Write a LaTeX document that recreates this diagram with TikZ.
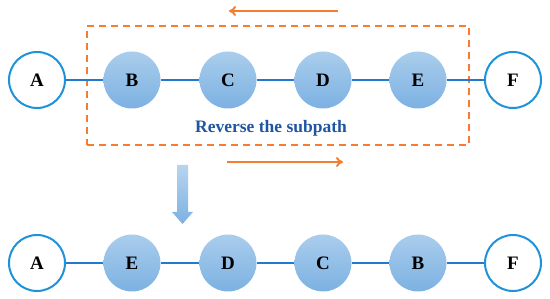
\documentclass[tikz,border=0pt]{standalone}
\usepackage{fontspec}
\setmainfont{Liberation Serif}
\usetikzlibrary{arrows.meta}
\definecolor{edgeblue}{HTML}{2279CF}
\definecolor{ringblue}{HTML}{1E93DA}
\definecolor{filltop}{HTML}{AACDEC}
\definecolor{fillbot}{HTML}{7CB1E2}
\definecolor{orng}{HTML}{F57D2E}
\definecolor{txtblue}{HTML}{1F56A0}
\tikzset{
  vnode/.style={circle, minimum size=57pt, inner sep=0pt, top color=filltop, bottom color=fillbot, draw=none, font=\fontsize{19}{19}\selectfont\bfseries},
  endnode/.style={circle, minimum size=56pt, inner sep=0pt, fill=white, draw=ringblue, line width=2pt, font=\fontsize{19}{19}\selectfont\bfseries},
  link/.style={draw=edgeblue, line width=2pt},
  oarrow/.style={draw=orng, line width=2pt, -{To[length=7pt,width=10pt]}},
  dashbox/.style={draw=orng, line width=2pt, dash pattern=on 7pt off 5pt},
}
\begin{document}
\begin{tikzpicture}[x=1pt,y=-1pt]
\useasboundingbox (0,0) rectangle (550,299);
% dashed box
\node[dashbox, minimum width=382pt, minimum height=119pt, inner sep=0pt] (box) at (278,86) {};
% top row
\node[endnode] (a1) at (37,80) {A};
\node[vnode] (b1) at (132,80) {B};
\node[vnode] (c1) at (228,80) {C};
\node[vnode] (d1) at (323,80) {D};
\node[vnode] (e1) at (418,80) {E};
\node[endnode] (f1) at (513,80) {F};
\foreach \u/\v in {a1/b1,b1/c1,c1/d1,d1/e1,e1/f1} \draw[link] (\u) -- (\v);
\node[font=\fontsize{17.5}{17.5}\selectfont\bfseries, text=txtblue] (lbl) at (271,128) {Reverse the subpath};
% orange arrows
\coordinate (t1) at (338,11);
\coordinate (t2) at (229,11);
\draw[oarrow] (t1) -- (t2);
\coordinate (u1) at (227,162);
\coordinate (u2) at (343,162);
\draw[oarrow] (u1) -- (u2);
% thick down arrow
\shade[top color=filltop!85!white, bottom color=fillbot, draw=none]
  (177,165) -- (188,165) -- (188,212) -- (193,212) -- (182.5,224) -- (172,212) -- (177,212) -- cycle;
% bottom row
\node[endnode] (a2) at (37,263) {A};
\node[vnode] (b2) at (132,263) {E};
\node[vnode] (c2) at (228,263) {D};
\node[vnode] (d2) at (323,263) {C};
\node[vnode] (e2) at (418,263) {B};
\node[endnode] (f2) at (513,263) {F};
\foreach \u/\v in {a2/b2,b2/c2,c2/d2,d2/e2,e2/f2} \draw[link] (\u) -- (\v);
\end{tikzpicture}
\end{document}
